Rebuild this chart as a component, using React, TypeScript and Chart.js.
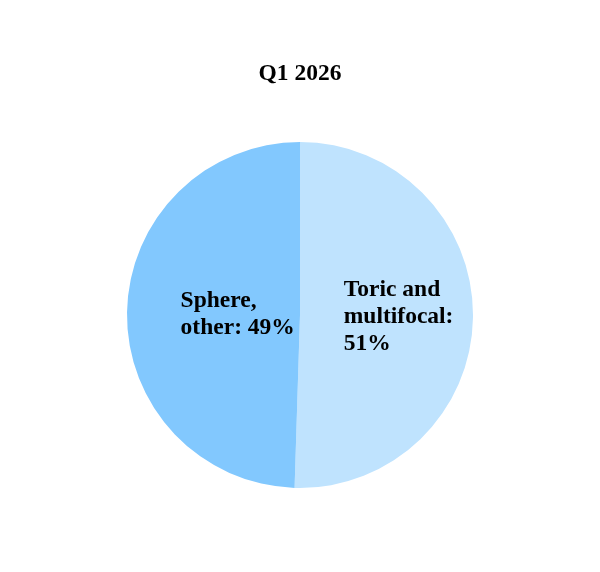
import React, { useEffect, useRef } from "react";
import { Chart, registerables } from "chart.js";

Chart.register(...registerables);

const chartTitle = "Q1 2026";
const categories = ["Toric and multifocal", "Sphere, other"];
const shares = [50.5, 49.5];
const labelLines = [["Toric and", "multifocal:", "51%"], ["Sphere,", "other: 49%"]];
const sliceColors = ["#BFE3FE", "#82C8FE"];
const labelRadiusFactors = [0.57, 0.36];

const FONT = "'Liberation Serif', 'Times New Roman', serif";

const labelPlugin = {
  id: "sliceLabels",
  afterDatasetsDraw(chart: any) {
    const ctx = chart.ctx;
    const meta = chart.getDatasetMeta(0);
    ctx.save();
    ctx.font = `bold 23.5px ${FONT}`;
    ctx.fillStyle = "#000";
    ctx.textBaseline = "middle";
    ctx.textAlign = "left";
    const lh = 27;
    meta.data.forEach((arc: any, i: number) => {
      const { x, y, startAngle, endAngle, outerRadius } = arc.getProps(
        ["x", "y", "startAngle", "endAngle", "outerRadius"],
        true
      );
      const mid = (startAngle + endAngle) / 2;
      const r = outerRadius * labelRadiusFactors[i];
      const cx = x + Math.cos(mid) * r;
      const cy = y + Math.sin(mid) * r;
      const lines = labelLines[i];
      const w = Math.max(...lines.map((l: string) => ctx.measureText(l).width));
      const left = cx - w / 2;
      const top = cy - ((lines.length - 1) * lh) / 2;
      lines.forEach((l: string, j: number) => ctx.fillText(l, left, top + j * lh));
    });
    ctx.restore();
  },
};

export default function App() {
  const ref = useRef<HTMLCanvasElement>(null);
  useEffect(() => {
    if (!ref.current) return;
    const chart = new Chart(ref.current, {
      type: "pie",
      data: {
        labels: categories,
        datasets: [
          {
            data: shares,
            backgroundColor: sliceColors,
            borderWidth: 0,
          },
        ],
      },
      options: {
        animation: false,
        responsive: true,
        maintainAspectRatio: false,
        layout: { padding: { top: 40, bottom: 76, left: 0, right: 0 } },
        plugins: {
          legend: { display: false },
          tooltip: { enabled: false },
          title: {
            display: true,
            text: chartTitle,
            color: "#000",
            font: { family: FONT, size: 23.5, weight: "bold", lineHeight: 1.2 },
            padding: { top: 11.9, bottom: 53.9 },
          },
        },
      },
      plugins: [labelPlugin],
    });
    return () => chart.destroy();
  }, []);
  return (
    <div style={{ width: 584, height: 556, position: "relative" }}>
      <canvas ref={ref} />
    </div>
  );
}
